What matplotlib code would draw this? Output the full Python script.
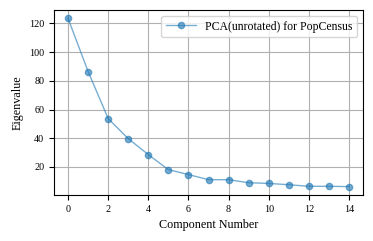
import matplotlib
matplotlib.use("Agg")
import matplotlib.pyplot as plt

components = list(range(15))
eigenvalues = [123.5, 86.5, 53.7, 39.7, 28.6, 18.1, 14.7, 11.1, 11.1,
               9.0, 8.5, 7.6, 6.5, 6.5, 6.3]

plt.rcParams["font.family"] = ["Liberation Serif", "DejaVu Serif"]
plt.rcParams["font.size"] = 8

fig = plt.figure(figsize=(3.73, 2.41), dpi=100)
ax = fig.add_axes([54 / 373, 46 / 241, 309 / 373, 185 / 241])

ax.plot(components, eigenvalues, marker="o", markersize=4.5, linewidth=1,
        alpha=0.6, color="#1f77b4", label="PCA(unrotated) for PopCensus")

ax.grid(True, color="#b0b0b0", linewidth=0.8)
ax.set_xticks(range(0, 15, 2))
ax.set_yticks(range(20, 121, 20))
ax.set_xlabel("Component Number", fontsize=8.7)
ax.set_ylabel("Eigenvalue", fontsize=8.7)
ax.tick_params(labelsize=7.3)
ax.legend(loc="upper right", fontsize=8.5, handlelength=2.5)

fig.savefig("out.png", dpi=100)
